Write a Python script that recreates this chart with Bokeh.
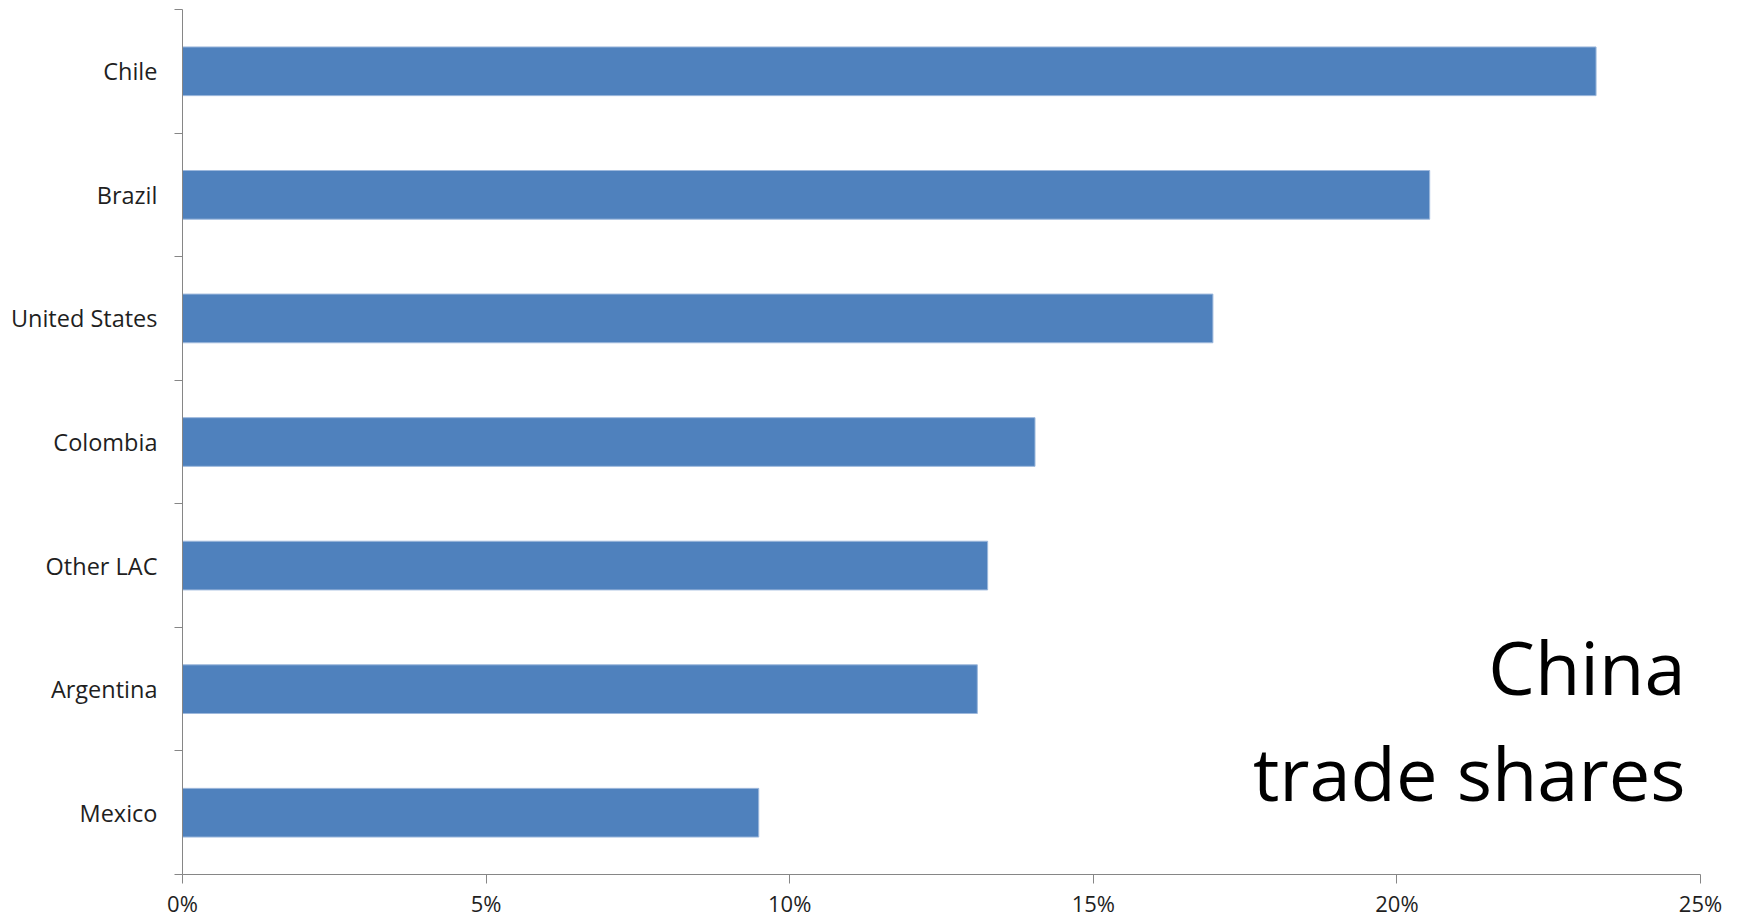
from bokeh.plotting import figure
from bokeh.models import FixedTicker, Range1d, Label, ColumnDataSource
from bokeh.embed import file_html
from bokeh.resources import INLINE

# Data (bottom to top)
countries = ["Mexico", "Argentina", "Other LAC", "Colombia", "United States", "Brazil", "Chile"]
shares = [0.0949, 0.1309, 0.1326, 0.1404, 0.1697, 0.2054, 0.2328]
x_ticks = [0.0, 0.05, 0.10, 0.15, 0.20, 0.25]
x_tick_labels = ["0%", "5%", "10%", "15%", "20%", "25%"]
title_lines = ["China", "trade shares"]

FONT = "Open Sans"
AXIS_COLOR = "#868686"
TEXT_COLOR = "#1f1f1f"

centers = [i + 0.5 for i in range(len(countries))]
src = ColumnDataSource(dict(y=centers, right=shares))

p = figure(width=1741, height=922, output_backend="svg", toolbar_location=None,
           x_range=Range1d(0, 0.25), y_range=Range1d(0, len(countries)),
           min_border_left=182, min_border_right=41, min_border_top=9, min_border_bottom=48)
p.outline_line_color = None
p.grid.visible = False
p.background_fill_color = "white"
p.border_fill_color = "white"

p.hbar(y="y", left=0, right="right", height=0.394, source=src,
       fill_color="#4F81BD", line_color="#9DB8DC", line_width=1)

# x axis
p.xaxis.ticker = FixedTicker(ticks=x_ticks, minor_ticks=[])
p.xaxis.major_label_overrides = {t: l for t, l in zip(x_ticks, x_tick_labels)}
p.xaxis.axis_line_color = AXIS_COLOR
p.xaxis.major_tick_line_color = AXIS_COLOR
p.xaxis.major_tick_out = 9
p.xaxis.major_tick_in = 0
p.xaxis.minor_tick_line_color = None
p.xaxis.major_label_text_font = FONT
p.xaxis.major_label_text_font_size = "22px"
p.xaxis.major_label_text_color = TEXT_COLOR
p.xaxis.major_label_standoff = 4

# y axis: labels at category centers, ticks at boundaries
p.yaxis.ticker = FixedTicker(ticks=centers, minor_ticks=list(range(len(countries) + 1)))
p.yaxis.major_label_overrides = {c: n for c, n in zip(centers, countries)}
p.yaxis.axis_line_color = AXIS_COLOR
p.yaxis.major_tick_line_color = None
p.yaxis.major_tick_out = 0
p.yaxis.major_tick_in = 0
p.yaxis.minor_tick_line_color = AXIS_COLOR
p.yaxis.minor_tick_out = 8
p.yaxis.minor_tick_in = 0
p.yaxis.major_label_text_font = FONT
p.yaxis.major_label_text_font_size = "23.5px"
p.yaxis.major_label_text_color = TEXT_COLOR
p.yaxis.major_label_standoff = 17

# Title lines in lower right
for txt, yy in zip(title_lines, [1.683, 0.825]):
    p.add_layout(Label(x=0.25, y=yy, x_offset=-15, text=txt, text_align="right",
                       text_baseline="alphabetic", text_font=FONT,
                       text_font_size="74px", text_color="black"))

open("out.html", "w").write(file_html(p, INLINE))
